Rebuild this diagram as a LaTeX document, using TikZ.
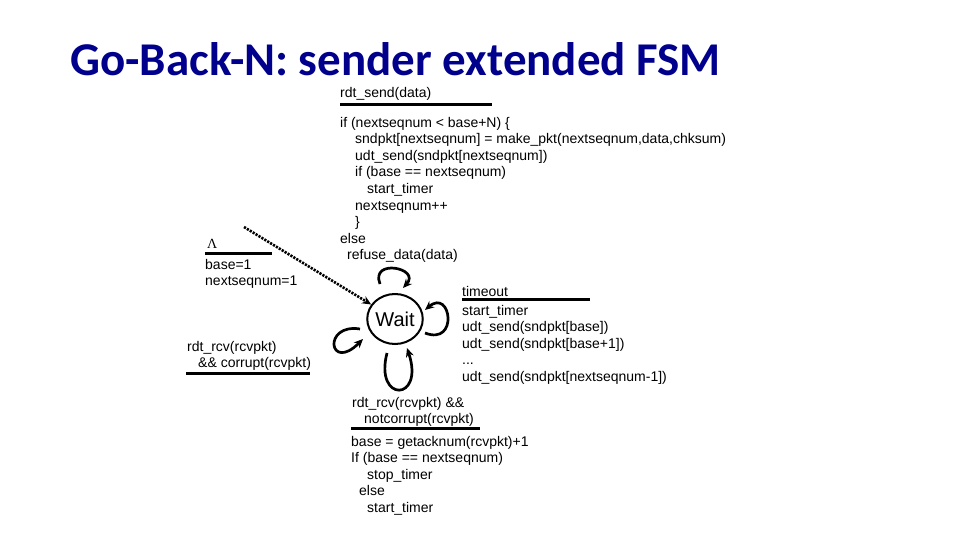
\documentclass[tikz,border=0pt]{standalone}
\usepackage{fontspec}
\setmainfont{Liberation Sans}
\newfontfamily\titlefont{Carlito}
\newfontfamily\greekfont{Liberation Serif}
\usepackage{xcolor}
\usepackage{tikz}
\usetikzlibrary{arrows.meta,positioning,calc,shapes.geometric}
\definecolor{titleblue}{RGB}{0,0,140}

\tikzset{
  title/.style={inner sep=0pt,anchor=base west,text=titleblue,font=\titlefont\bfseries\fontsize{47}{50}\selectfont},
  % multi-line labels sit on the baseline of their last line
  lbl/.style={inner sep=0pt,anchor=base west,align=left,font=\fontsize{14}{16.6}\selectfont},
  guard/.style={line width=3pt},
  state/.style={draw,ellipse,line width=2pt,minimum width=52pt,minimum height=50pt,inner sep=0pt,font=\fontsize{20}{24}\selectfont},
  loopline/.style={line width=2.7pt,-{Stealth[length=9pt,width=8pt]}},
  initline/.style={line width=2.6pt,dash pattern=on 2.2pt off 1.2pt,-{Stealth[length=9pt,width=8pt]}},
}

\begin{document}
\begin{tikzpicture}[>=Stealth,x=1pt,y=-1pt]
\useasboundingbox (0,0) rectangle (960,540);

\node[title] (title) at (70,76) {Go-Back-N: sender extended FSM};

% the one state
\node[state] (wait) at (395,319) {Wait};

% initial transition
\coordinate (init) at (244,227);
\draw[initline] (init) -- (wait);
\node[lbl] (initev) at (207,248) {{\greekfont Λ}};
\draw[guard] (205,253) -- (272,253);
\node[lbl] (initact) at (205,285.6) {base=1\\nextseqnum=1};

% rdt_send
\node[lbl] (sendev) at (340,98) {rdt\_send(data)};
\draw[guard] (340,105) -- (492,105);
\node[lbl] (sendact) at (340,259.8) {if (nextseqnum < base+N) \{\\
  \hspace*{15pt}sndpkt[nextseqnum] = make\_pkt(nextseqnum,data,chksum)\\
  \hspace*{15pt}udt\_send(sndpkt[nextseqnum])\\
  \hspace*{15pt}if (base == nextseqnum)\\
  \hspace*{27pt}start\_timer\\
  \hspace*{15pt}nextseqnum++\\
  \hspace*{15pt}\}\\
  else\\
  \hspace*{7pt}refuse\_data(data)};

% timeout
\node[lbl] (toev) at (462,296) {timeout};
\draw[guard] (462,299) -- (590,299);
\node[lbl] (toact) at (462,381.4) {start\_timer\\
  udt\_send(sndpkt[base])\\
  udt\_send(sndpkt[base+1])\\
  ...\\
  udt\_send(sndpkt[nextseqnum-1])};

% corrupt ack
\node[lbl] (badev) at (187,367.6) {rdt\_rcv(rcvpkt)\\
  \hspace*{11pt}\&\& corrupt(rcvpkt)};
\draw[guard] (186,373) -- (310,373);

% good ack
\node[lbl] (okev) at (352,423.6) {rdt\_rcv(rcvpkt) \&\&\\
  \hspace*{12pt}notcorrupt(rcvpkt)};
\draw[guard] (351,428) -- (480,428);
\node[lbl] (okact) at (351,512.4) {base = getacknum(rcvpkt)+1\\
  If (base == nextseqnum)\\
  \hspace*{16pt}stop\_timer\\
  \hspace*{8pt}else\\
  \hspace*{16pt}start\_timer};

% self loops
\draw[loopline] ([shift={(-15,-35)}]wait.center) .. controls +(-10,-26) and +(18,-20) .. ([shift={(8,-31)}]wait.center);
\draw[loopline] ([shift={(30,14)}]wait.center) .. controls +(34,13) and +(26,-22) .. ([shift={(30,-9)}]wait.center);
\draw[loopline] ([shift={(-35,10)}]wait.center) .. controls +(-38,-6) and +(-34,34) .. ([shift={(-32,20)}]wait.center);
\draw[loopline] ([shift={(-8,34)}]wait.center) .. controls +(-13,50) and +(18,54) .. ([shift={(12,29)}]wait.center);
\end{tikzpicture}
\end{document}
